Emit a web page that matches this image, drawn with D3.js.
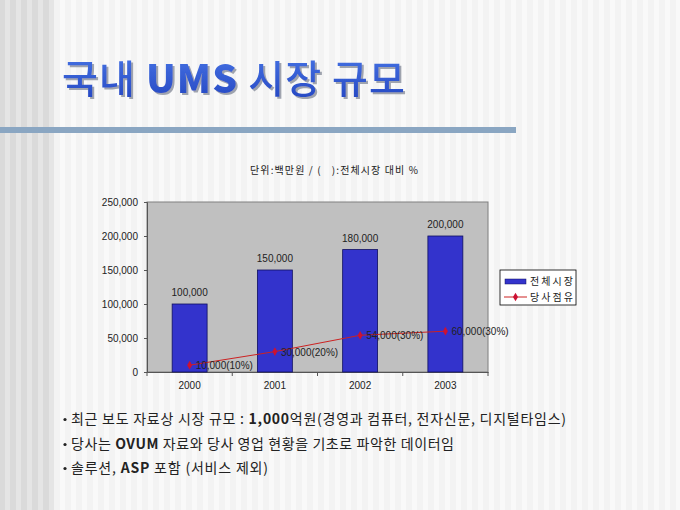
<!DOCTYPE html>
<html>
<head>
<meta charset="utf-8">
<script src="https://cdn.jsdelivr.net/npm/d3@7"></script>
<style>
  body { margin: 0; padding: 0; background: #f4f4f4; }
  svg { display: block; }
</style>
</head>
<body>
<script>
// chart data
var years = ["2000", "2001", "2002", "2003"];
var marketValues = [100000, 150000, 180000, 200000];
var shareValues = [10000, 30000, 54000, 60000];
var shareLabels = ["10,000(10%)", "30,000(20%)", "54,000(30%)", "60,000(30%)"];
var yTicks = [0, 50000, 100000, 150000, 200000, 250000];
var seriesNames = ["전체시장", "당사점유"];

var W = 680, H = 510;
var plot = {left: 147, right: 488, top: 202, bottom: 372};

var svg = d3.select("body").append("svg")
  .attr("width", W)
  .attr("height", H);

var defs = svg.append("defs");

// striped background
var bg = svg.append("g");
bg.append("rect").attr("width", W).attr("height", H).attr("fill", "#f3f3f3");
bg.append("rect").attr("width", 50).attr("height", H).attr("fill", "#dadada");
for (var sx = 0; sx < W; sx += 11) {
  bg.append("rect")
    .attr("x", sx + 5).attr("y", 0)
    .attr("width", 5).attr("height", H)
    .attr("fill", sx < 50 ? "#e5e5e5" : "#f9f9f9");
}

// title
var grad = defs.append("linearGradient").attr("id", "tg")
  .attr("x1", 0).attr("y1", 0).attr("x2", 0).attr("y2", 1);
grad.append("stop").attr("offset", "0%").attr("stop-color", "#4a78e8");
grad.append("stop").attr("offset", "100%").attr("stop-color", "#2244c0");

var shadow = defs.append("filter").attr("id", "sh")
  .attr("x", "-5%").attr("y", "-20%").attr("width", "110%").attr("height", "140%");
shadow.append("feDropShadow")
  .attr("dx", 2).attr("dy", 2).attr("stdDeviation", 0.6)
  .attr("flood-color", "#7a8090").attr("flood-opacity", 0.7);

var titleFont = "'Noto Sans CJK KR', sans-serif";
var title = svg.append("text")
  .attr("x", 62).attr("y", 93)
  .attr("font-family", titleFont).attr("font-size", 39)
  .attr("textLength", 343).attr("lengthAdjust", "spacing")
  .attr("fill", "url(#tg)")
  .attr("filter", "url(#sh)");
title.append("tspan").attr("font-weight", 500).text("국내 ");
title.append("tspan").attr("font-weight", 900).text("UMS");
title.append("tspan").attr("font-weight", 500).text(" 시장 규모");

// rule under the title
svg.append("rect")
  .attr("x", 0).attr("y", 127)
  .attr("width", 516).attr("height", 6)
  .attr("fill", "#8aa6c2");

// unit note
svg.append("text")
  .attr("x", 250).attr("y", 174)
  .attr("font-family", "'Noto Sans CJK KR', sans-serif").attr("font-size", 10)
  .attr("textLength", 168).attr("lengthAdjust", "spacing")
  .attr("fill", "#222")
  .text("단위:백만원 / (\u00a0\u00a0\u00a0):전체시장 대비 %");

// scales
var x = d3.scaleBand().domain(years).range([plot.left, plot.right]).paddingInner(0.59).paddingOuter(0.295);
var xc = d3.scaleBand().domain(years).range([plot.left, plot.right]);
var y = d3.scaleLinear().domain([0, 250000]).range([plot.bottom, plot.top]);
var fmt = d3.format(",");

// plot area
svg.append("rect")
  .attr("x", plot.left).attr("y", plot.top)
  .attr("width", plot.right - plot.left).attr("height", plot.bottom - plot.top)
  .attr("fill", "#c0c0c0").attr("stroke", "#808080").attr("stroke-width", 1);

var labelFont = "'Liberation Sans', Arial, sans-serif";

// axes
var yAxis = svg.append("g")
  .attr("transform", "translate(" + plot.left + ",0)")
  .call(d3.axisLeft(y).tickValues(yTicks).tickSize(3).tickPadding(6).tickFormat(fmt));
yAxis.select(".domain").attr("stroke", "#555");
yAxis.selectAll("line").attr("stroke", "#555");
yAxis.selectAll("text").attr("font-family", labelFont).attr("font-size", 10).attr("fill", "#222");

var xAxis = svg.append("g")
  .attr("transform", "translate(0," + plot.bottom + ")")
  .call(d3.axisBottom(xc).tickSize(0).tickPadding(10));
xAxis.select(".domain").attr("stroke", "#555");
xAxis.selectAll("text").attr("font-family", labelFont).attr("font-size", 10).attr("fill", "#222");
xAxis.selectAll(".sep").data(years).enter().append("line")
  .attr("x1", function(d) { return xc(d); })
  .attr("x2", function(d) { return xc(d); })
  .attr("y1", 0).attr("y2", 4)
  .attr("stroke", "#555");
xAxis.append("line")
  .attr("x1", plot.right).attr("x2", plot.right).attr("y1", 0).attr("y2", 4)
  .attr("stroke", "#555");

// bars
svg.selectAll(".bar").data(marketValues).enter().append("rect")
  .attr("class", "bar")
  .attr("x", function(d, i) { return x(years[i]); })
  .attr("y", function(d) { return y(d); })
  .attr("width", x.bandwidth())
  .attr("height", function(d) { return plot.bottom - y(d); })
  .attr("fill", "#3333cc")
  .attr("stroke", "#101060").attr("stroke-width", 0.8);

svg.selectAll(".barlabel").data(marketValues).enter().append("text")
  .attr("x", function(d, i) { return xc(years[i]) + xc.bandwidth() / 2; })
  .attr("y", function(d) { return y(d) - 8; })
  .attr("text-anchor", "middle")
  .attr("font-family", labelFont).attr("font-size", 10).attr("fill", "#222")
  .text(function(d) { return fmt(d); });

// share line
var line = d3.line()
  .x(function(d, i) { return xc(years[i]) + xc.bandwidth() / 2; })
  .y(function(d) { return y(d); });

svg.append("path")
  .datum(shareValues)
  .attr("d", line)
  .attr("fill", "none")
  .attr("stroke", "#cc2222").attr("stroke-width", 1);

var diamond = d3.symbol().type(d3.symbolDiamond).size(22);
svg.selectAll(".pt").data(shareValues).enter().append("path")
  .attr("d", diamond)
  .attr("transform", function(d, i) {
    return "translate(" + (xc(years[i]) + xc.bandwidth() / 2) + "," + y(d) + ")";
  })
  .attr("fill", "#cc1133");

svg.selectAll(".ptlabel").data(shareValues).enter().append("text")
  .attr("x", function(d, i) { return xc(years[i]) + xc.bandwidth() / 2 + 6; })
  .attr("y", function(d) { return y(d) + 4; })
  .attr("font-family", labelFont).attr("font-size", 10).attr("fill", "#222")
  .text(function(d, i) { return shareLabels[i]; });

// legend
var legend = svg.append("g").attr("transform", "translate(500,270)");
legend.append("rect")
  .attr("width", 76).attr("height", 35)
  .attr("fill", "#fff").attr("stroke", "#000").attr("stroke-width", 0.8);
legend.append("rect")
  .attr("x", 5).attr("y", 9).attr("width", 21).attr("height", 5)
  .attr("fill", "#3333cc").attr("stroke", "#101060").attr("stroke-width", 0.5);
legend.append("line")
  .attr("x1", 4).attr("x2", 27).attr("y1", 27).attr("y2", 27)
  .attr("stroke", "#cc2222").attr("stroke-width", 1);
legend.append("path")
  .attr("d", diamond)
  .attr("transform", "translate(15.5,27)")
  .attr("fill", "#cc1133");
legend.selectAll(".lt").data(seriesNames).enter().append("text")
  .attr("x", 30)
  .attr("y", function(d, i) { return 15 + i * 16; })
  .attr("font-family", "'Noto Sans CJK KR', sans-serif").attr("font-size", 10)
  .attr("textLength", 43).attr("lengthAdjust", "spacing")
  .attr("fill", "#222")
  .text(function(d) { return d; });

// bullet notes
var notes = [
  [["최근 보도 자료상 시장 규모 : ", 400], ["1,000", 700], ["억원(경영과 컴퓨터, 전자신문, 디지털타임스)", 400]],
  [["당사는 ", 400], ["OVUM", 700], [" 자료와 당사 영업 현황을 기초로 파악한 데이터임", 400]],
  [["솔루션, ", 400], ["ASP", 700], [" 포함 (서비스 제외)", 400]]
];
var noteY = [424, 449, 473];
var noteWidth = [495, 383, 197];
notes.forEach(function(parts, i) {
  svg.append("circle")
    .attr("cx", 65).attr("cy", noteY[i] - 4.5).attr("r", 1.6)
    .attr("fill", "#222");
  var t = svg.append("text")
    .attr("x", 71).attr("y", noteY[i])
    .attr("font-family", "'Noto Sans CJK KR', sans-serif").attr("font-size", 14)
    .attr("textLength", noteWidth[i]).attr("lengthAdjust", "spacing")
    .attr("fill", "#222");
  parts.forEach(function(p) {
    t.append("tspan").attr("font-weight", p[1]).text(p[0]);
  });
});
</script>
</body>
</html>
